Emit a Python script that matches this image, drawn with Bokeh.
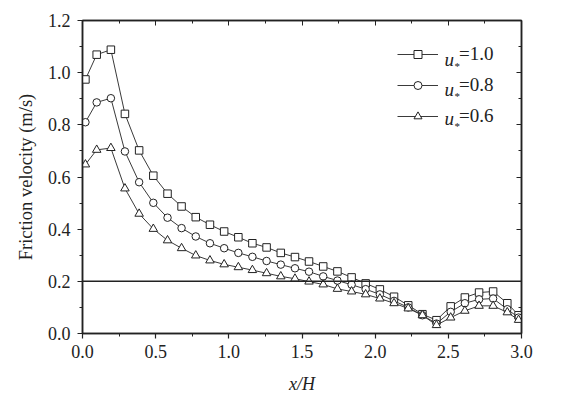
from bokeh.plotting import figure
from bokeh.models import (Range1d, FixedTicker, LinearAxis, PrintfTickFormatter,
                          Span, Legend, LegendItem, Label, CustomLabelingPolicy)
from bokeh.embed import file_html
from bokeh.resources import INLINE

# ---- data ----
x_over_h = [0.02, 0.097, 0.194, 0.29, 0.387, 0.484, 0.581, 0.677, 0.774, 0.871, 0.968,
            1.065, 1.161, 1.258, 1.355, 1.452, 1.548, 1.645, 1.742, 1.839, 1.935, 2.032,
            2.129, 2.226, 2.323, 2.419, 2.516, 2.613, 2.71, 2.806, 2.903, 2.98]
u_star_10 = [0.974, 1.069, 1.088, 0.842, 0.702, 0.605, 0.536, 0.487, 0.446, 0.417, 0.391,
             0.369, 0.346, 0.330, 0.309, 0.293, 0.276, 0.257, 0.238, 0.215, 0.192, 0.169,
             0.141, 0.108, 0.074, 0.051, 0.104, 0.138, 0.157, 0.161, 0.116, 0.070]
u_star_08 = [0.810, 0.886, 0.902, 0.698, 0.580, 0.501, 0.444, 0.404, 0.372, 0.346, 0.327,
             0.309, 0.294, 0.278, 0.264, 0.250, 0.237, 0.219, 0.203, 0.187, 0.170, 0.150,
             0.125, 0.100, 0.070, 0.038, 0.083, 0.116, 0.131, 0.134, 0.093, 0.061]
u_star_06 = [0.648, 0.704, 0.711, 0.556, 0.459, 0.401, 0.357, 0.327, 0.299, 0.280, 0.265,
             0.254, 0.243, 0.231, 0.219, 0.210, 0.199, 0.188, 0.171, 0.161, 0.150, 0.134,
             0.116, 0.096, 0.070, 0.032, 0.061, 0.087, 0.106, 0.106, 0.081, 0.052]
series_values = ["1.0", "0.8", "0.6"]
threshold = 0.2

x_major = [0.0, 0.5, 1.0, 1.5, 2.0, 2.5, 3.0]
x_minor = [0.25, 0.75, 1.25, 1.75, 2.25, 2.75]
y_major = [0.0, 0.2, 0.4, 0.6, 0.8, 1.0, 1.2]
y_minor = [0.1, 0.3, 0.5, 0.7, 0.9, 1.1]

FONT = "Liberation Serif"
INK = "#222222"
FS = "18px"

p = figure(width=573, height=399, output_backend="svg", toolbar_location=None,
           x_range=Range1d(0, 3.0), y_range=Range1d(0, 1.2),
           min_border_left=82, min_border_right=52, min_border_top=20, min_border_bottom=66)
p.grid.visible = False
p.outline_line_color = INK
p.outline_line_width = 1.5
p.background_fill_color = "white"

xt = FixedTicker(ticks=x_major, minor_ticks=x_minor)
yt = FixedTicker(ticks=y_major, minor_ticks=y_minor)
fmt = PrintfTickFormatter(format="%.1f")

p.xaxis.ticker = xt
p.yaxis.ticker = yt
p.xaxis.formatter = fmt
p.yaxis.formatter = fmt
for ax in (p.xaxis[0], p.yaxis[0]):
    ax.axis_line_width = 1.5
    ax.axis_line_color = INK
    ax.major_tick_line_color = INK
    ax.minor_tick_line_color = INK
    ax.major_tick_line_width = 1.2
    ax.major_tick_in = 0
    ax.major_tick_out = 5
    ax.minor_tick_in = 0
    ax.minor_tick_out = 3
    ax.major_label_text_font = FONT
    ax.major_label_text_font_size = FS
    ax.major_label_text_color = INK
    ax.axis_label_text_font = FONT
    ax.axis_label_text_font_size = FS
    ax.axis_label_text_color = INK
p.xaxis.axis_label = "x/H"
p.xaxis.axis_label_text_font_style = "italic"
p.xaxis.major_label_standoff = 6
p.xaxis.axis_label_standoff = 13
p.yaxis.axis_label = "Friction velocity (m/s)"
p.yaxis.axis_label_text_font_style = "normal"
p.yaxis.axis_label_text_font_size = "18.5px"
p.yaxis.major_label_standoff = 7
p.yaxis.axis_label_standoff = 9

no_labels = CustomLabelingPolicy(code="""
const n = indices.size;
for (let i = 0; i < n; i++) { indices.unset(i); }
return indices;
""")

for loc, tk in (("above", xt), ("right", yt)):
    ax = LinearAxis(ticker=tk, formatter=fmt, major_label_policy=no_labels)
    ax.axis_line_width = 1.5
    ax.axis_line_color = INK
    ax.major_tick_line_color = INK
    ax.minor_tick_line_color = INK
    ax.major_tick_in = 5
    ax.major_tick_out = 0
    ax.minor_tick_in = 3
    ax.minor_tick_out = 0
    ax.major_label_standoff = 0
    p.add_layout(ax, loc)

p.add_layout(Span(location=threshold, dimension="width", line_color=INK, line_width=1.5))

markers = ["square", "circle", "triangle"]
sizes = [7.5, 7.5, 8.5]
items = []
for ys, mk, sz, val in zip([u_star_10, u_star_08, u_star_06], markers, sizes, series_values):
    ln = p.line(x_over_h, ys, line_color="#3a3a3a", line_width=1)
    sc = p.scatter(x_over_h, ys, marker=mk, size=sz, fill_color="white",
                   line_color=INK, line_width=1)
    items.append(LegendItem(label="=" + val, renderers=[ln, sc]))

legend = Legend(items=items, location=(315, 206), orientation="vertical",
                glyph_width=41, glyph_height=20, label_height=20,
                spacing=9, padding=0, margin=0, label_standoff=21,
                border_line_alpha=0, background_fill_alpha=0,
                label_text_font=FONT, label_text_font_size="19px",
                label_text_color=INK)
p.add_layout(legend)

# italic u with subscript asterisk in front of each legend label
row_y = [1.051, 0.936, 0.824]
for yy in row_y:
    p.add_layout(Label(x=2.474, y=yy, text="u", text_font=FONT, text_font_style="italic",
                       text_font_size="19px", text_color=INK, text_baseline="middle",
                       text_align="left"))
    p.add_layout(Label(x=2.474, y=yy, x_offset=10, y_offset=-7, text="*", text_font=FONT,
                       text_font_size="11px", text_color=INK, text_baseline="middle",
                       text_align="left"))

open("out.html", "w").write(file_html(p, INLINE))
